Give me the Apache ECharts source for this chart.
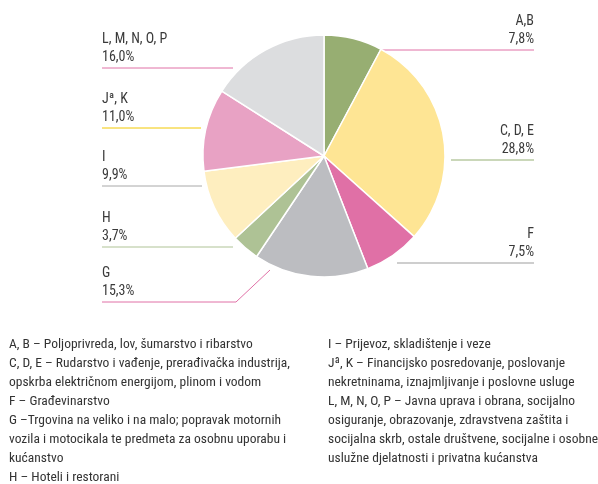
<!DOCTYPE html>
<html>
<head>
<meta charset="utf-8">
<script src="https://cdn.jsdelivr.net/npm/echarts@6/dist/echarts.min.js"></script>
<style>
  html, body { margin: 0; padding: 0; background: #fff; }
  #chart { width: 598px; height: 484px; }
</style>
</head>
<body>
<div id="chart"></div>
<script>
// udjeli djelatnosti (%), redom od vrha u smjeru kazaljke
var categories = ['A,B', 'C, D, E', 'F', 'G', 'H', 'I', 'J\u00aa, K', 'L, M, N, O, P'];
var shares = [7.8, 28.8, 7.5, 15.3, 3.7, 9.9, 11.0, 16.0];

var legendLeft = [
  'A, B \u2013 Poljoprivreda, lov, \u0161umarstvo i ribarstvo',
  'C, D, E \u2013 Rudarstvo i va\u0111enje, prera\u0111iva\u010dka industrija,',
  'opskrba elektri\u010dnom energijom, plinom i vodom',
  'F \u2013 Gra\u0111evinarstvo',
  'G \u2013Trgovina na veliko i na malo; popravak motornih',
  'vozila i motocikala te predmeta za osobnu uporabu i',
  'ku\u0107anstvo',
  'H \u2013 Hoteli i restorani'
];
var legendRight = [
  'I \u2013 Prijevoz, skladi\u0161tenje i veze',
  'J\u00aa, K \u2013 Financijsko posredovanje, poslovanje',
  'nekretninama, iznajmljivanje i poslovne usluge',
  'L, M, N, O, P \u2013 Javna uprava i obrana, socijalno',
  'osiguranje, obrazovanje, zdravstvena za\u0161tita i',
  'socijalna skrb, ostale dru\u0161tvene, socijalne i osobne',
  'uslu\u017ene djelatnosti i privatna ku\u0107anstva'
];

var sliceColors = ['#97ae72', '#fee594', '#e070a6', '#bcbdc1', '#aec295', '#feeebf', '#e8a2c4', '#dcdddf'];
var lineColors = ['#e070a6', '#95af74', '#9d9d9d', '#e070a6', '#afc396', '#a8a8a8', '#f2c800', '#e070a6'];

// položaj oznaka i crta (x teksta, y crte, točke crte)
var labelPos = [
  { x: 534, y: 50, align: 'right', pts: [[380, 50], [534, 50]] },
  { x: 534, y: 160, align: 'right', pts: [[451, 160], [534, 160]] },
  { x: 534, y: 263, align: 'right', pts: [[397, 263], [534, 263]] },
  { x: 102, y: 302, align: 'left', pts: [[270, 270], [236, 302], [102, 302]] },
  { x: 102, y: 247, align: 'left', pts: [[233, 247], [102, 247]] },
  { x: 102, y: 186, align: 'left', pts: [[202, 186], [102, 186]] },
  { x: 102, y: 128, align: 'left', pts: [[201, 128], [102, 128]] },
  { x: 102, y: 68, align: 'left', pts: [[233, 68], [102, 68]] }
];

var font = '"Roboto Condensed", "DejaVu Sans Condensed", sans-serif';

var chart = echarts.init(document.getElementById('chart'), null, { renderer: 'canvas' });

var pieData = [];
categories.forEach(function (name, i) {
  pieData.push({
    name: name,
    value: shares[i],
    itemStyle: { color: sliceColors[i] },
    labelLine: { lineStyle: { color: lineColors[i], width: 1 } }
  });
});

chart.setOption({
  animation: false,
  series: [{
    type: 'pie',
    center: [324, 156],
    radius: 121,
    startAngle: 90,
    clockwise: true,
    avoidLabelOverlap: false,
    itemStyle: { borderColor: '#fff', borderWidth: 1.5 },
    emphasis: { disabled: true },
    label: {
      show: true,
      position: 'outside',
      color: '#3a3a3a',
      fontFamily: font,
      fontSize: 14,
      lineHeight: 18,
      formatter: function (p) {
        return p.name + '\n' + p.value.toFixed(1).replace('.', ',') + '%';
      }
    },
    labelLine: { show: true, smooth: false },
    labelLayout: function (params) {
      var lp = labelPos[params.dataIndex];
      return {
        x: lp.x,
        y: lp.y - 2,
        align: lp.align,
        verticalAlign: 'bottom',
        labelLinePoints: lp.pts
      };
    },
    data: pieData
  }],
  graphic: [
    {
      type: 'text',
      left: 9,
      top: 335,
      style: {
        text: legendLeft.join('\n'),
        font: '13.5px ' + font,
        lineHeight: 19,
        fill: '#333'
      }
    },
    {
      type: 'text',
      left: 328,
      top: 335,
      style: {
        text: legendRight.join('\n'),
        font: '13.5px ' + font,
        lineHeight: 19,
        fill: '#333'
      }
    }
  ]
});
</script>
</body>
</html>
